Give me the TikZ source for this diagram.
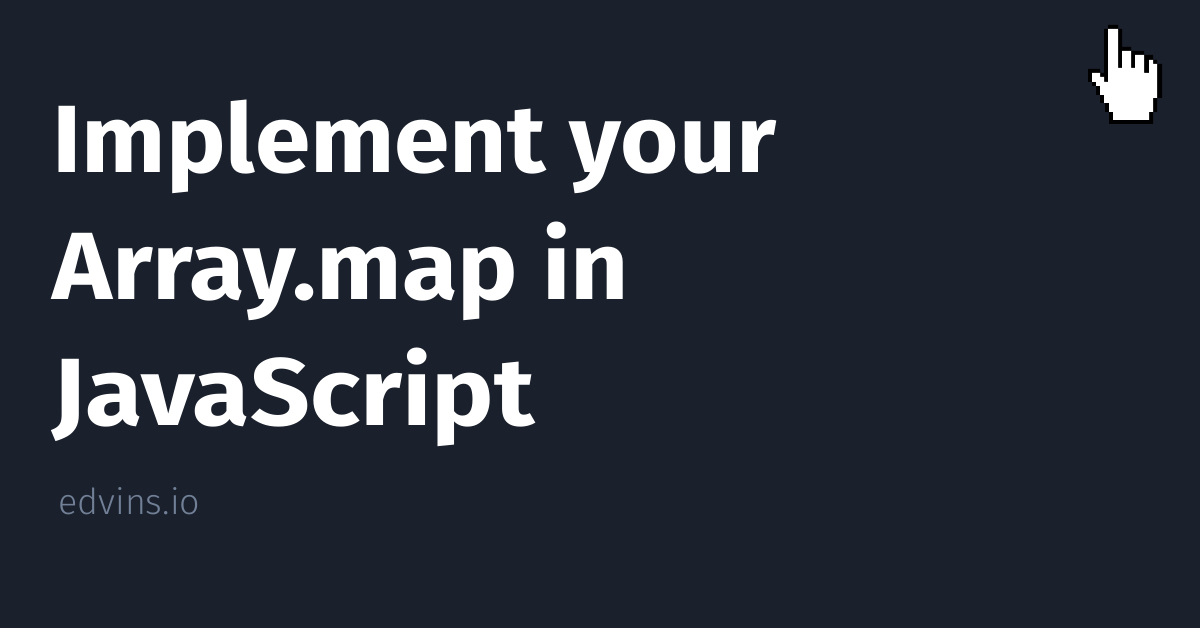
\documentclass[tikz,border=0pt]{standalone}
\usepackage{fontspec}
\setmainfont{Fira Sans}
\newfontfamily\lightfont{Fira Sans Light}
\definecolor{bgdark}{HTML}{1A202C}
\definecolor{sitegray}{HTML}{718096}
\tikzset{
  titleline/.style={anchor=base west,inner sep=0pt,text=white,font=\fontsize{54.4pt}{60pt}\bfseries},
  sitename/.style={anchor=base west,inner sep=0pt,text=sitegray,font=\fontsize{20.4pt}{24pt}\lightfont}
}
\begin{document}
\begin{tikzpicture}[x=0.02cm,y=-0.02cm]
\fill[bgdark] (0,0) rectangle (1200,628);
\useasboundingbox (0,0) rectangle (1200,628);
\node[titleline] (line1) at (52,173) {\scalebox{1.046}[1]{Implement your}};
\node[titleline] (line2) at (52,299) {\scalebox{1.06}[1]{Array.map in}};
\node[titleline] (line3) at (52,425) {\scalebox{1.096}[1]{JavaScript}};
\node[sitename] (site) at (58,514) {edvins.io};
% pointer outline
\fill[black] (1108,25) -- (1118,25) -- (1118,29) -- (1122,29) -- (1122,47) -- (1131,47) -- (1131,51) -- (1144,51) -- (1144,55) -- (1153,55) -- (1153,60) -- (1157,60) -- (1157,64) -- (1162,64) -- (1162,98) -- (1157,98) -- (1157,112) -- (1153,112) -- (1153,124) -- (1109,124) -- (1109,112) -- (1105,112) -- (1105,103) -- (1100,103) -- (1100,95) -- (1096,95) -- (1096,86) -- (1092,86) -- (1092,82) -- (1088,82) -- (1088,69) -- (1100,69) -- (1100,73) -- (1104,73) -- (1104,29) -- (1108,29) -- cycle;
% pointer inside
\fill[white] (1108,29) -- (1118,29) -- (1118,68) -- (1122,68) -- (1122,51) -- (1131,51) -- (1131,68) -- (1135,68) -- (1135,55) -- (1144,55) -- (1144,73) -- (1149,73) -- (1149,60) -- (1153,60) -- (1153,64) -- (1157,64) -- (1157,98) -- (1153,98) -- (1153,112) -- (1149,112) -- (1149,120) -- (1113,120) -- (1113,112) -- (1109,112) -- (1109,103) -- (1104,103) -- (1104,95) -- (1100,95) -- (1100,86) -- (1096,86) -- (1096,82) -- (1092,82) -- (1092,73) -- (1100,73) -- (1100,77) -- (1104,77) -- (1104,82) -- (1108,82) -- cycle;
\end{tikzpicture}
\end{document}
